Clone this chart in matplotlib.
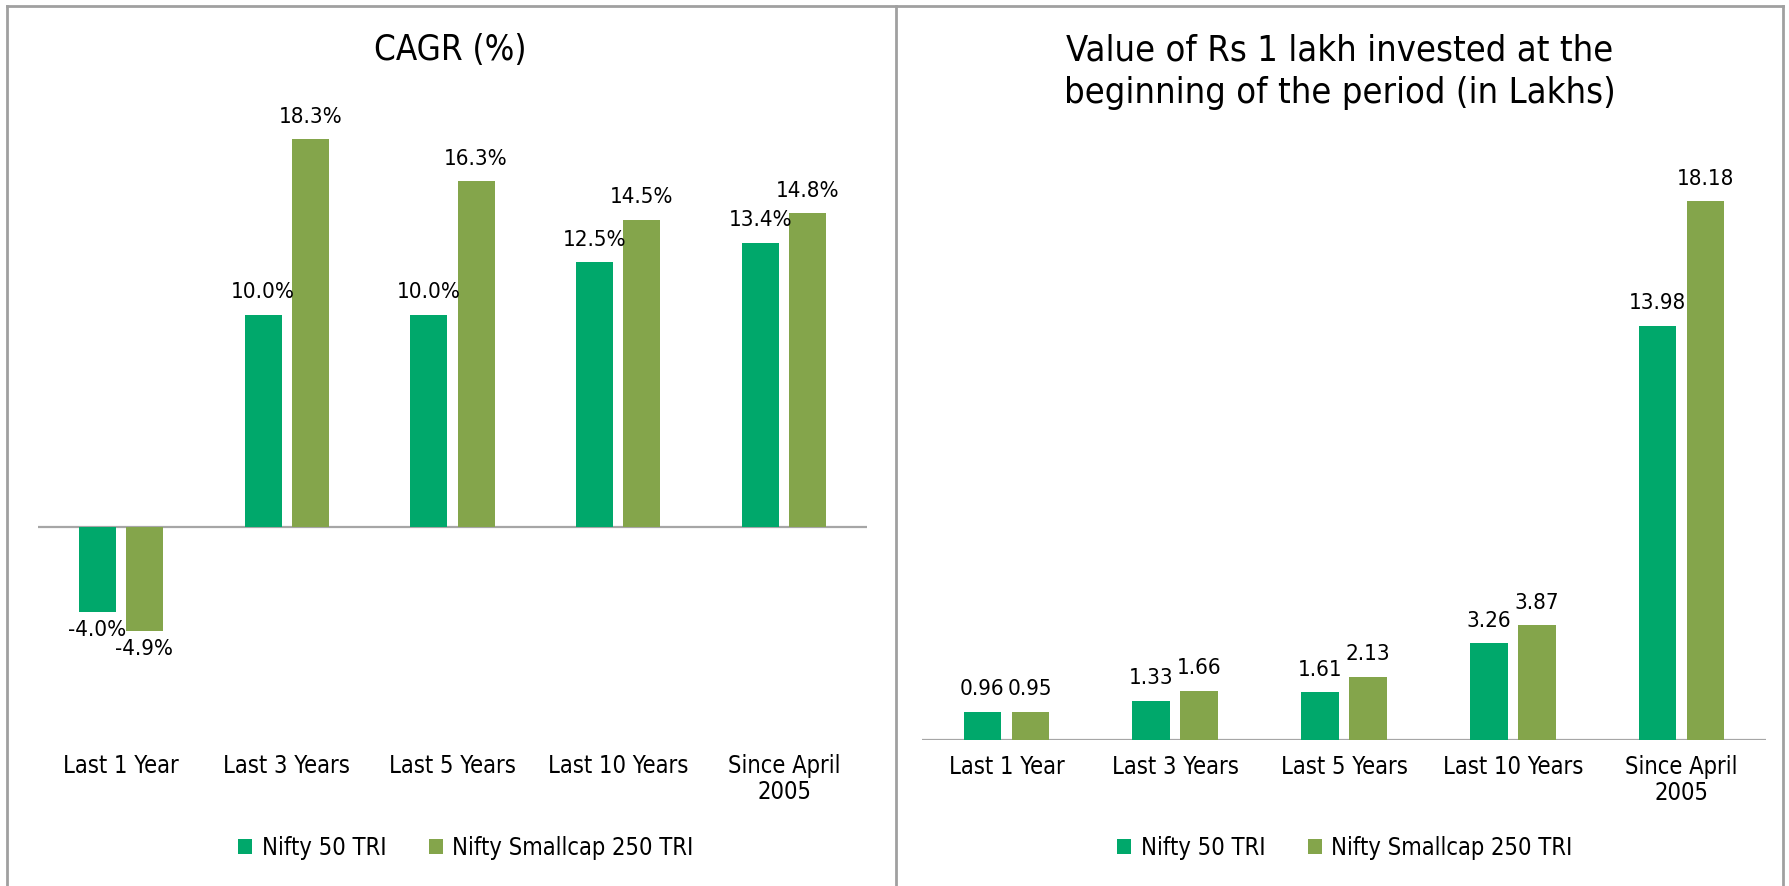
import matplotlib.pyplot as plt
import numpy as np
from matplotlib.lines import Line2D

plt.rcParams['font.family'] = ['DejaVu Sans']
plt.rcParams['font.stretch'] = 'condensed'

# data
categories = ['Last 1 Year', 'Last 3 Years', 'Last 5 Years', 'Last 10 Years', 'Since April\n2005']
series_names = ['Nifty 50 TRI', 'Nifty Smallcap 250 TRI']
cagr_nifty50 = [-4.0, 10.0, 10.0, 12.5, 13.4]
cagr_smallcap = [-4.9, 18.3, 16.3, 14.5, 14.8]
value_nifty50 = [0.96, 1.33, 1.61, 3.26, 13.98]
value_smallcap = [0.95, 1.66, 2.13, 3.87, 18.18]

green = '#00A86B'
olive = '#84A54B'
W, H = 1789, 886

fig = plt.figure(figsize=(W / 100, H / 100), dpi=100)

def axes_px(x0, x1, ytop, ybot):
    return fig.add_axes([x0 / W, (H - ybot) / H, (x1 - x0) / W, (ybot - ytop) / H])

def draw_bars(ax, a, b, fmt):
    x = np.arange(len(categories))
    w = 0.223
    off = 0.142
    bars1 = ax.bar(x - off, a, w, color=green, label=series_names[0])
    bars2 = ax.bar(x + off, b, w, color=olive, label=series_names[1])
    for bars in (bars1, bars2):
        for r in bars:
            v = r.get_height()
            cx = r.get_x() + r.get_width() / 2
            if v >= 0:
                ax.annotate(fmt(v), (cx, v), xytext=(0, 9), textcoords='offset points',
                            ha='center', va='bottom', fontsize=16)
            else:
                ax.annotate(fmt(v), (cx, v), xytext=(0, -6), textcoords='offset points',
                            ha='center', va='top', fontsize=16)
    ax.set_xlim(-0.5, len(categories) - 0.5)
    ax.set_xticks(x)
    ax.set_xticklabels(categories, fontsize=17, linespacing=1.1)
    ax.tick_params(axis='x', length=0, pad=11)
    ax.set_yticks([])
    for s in ax.spines.values():
        s.set_visible(False)
    ax.axhline(0, color='#A6A6A6', lw=1.6, zorder=0)

# left chart: CAGR
ax1 = axes_px(38, 867, 103, 739)
draw_bars(ax1, cagr_nifty50, cagr_smallcap, lambda v: f'{v:.1f}%')
ax1.set_ylim(-10, 20)
fig.text(450 / W, 1 - 50 / H, 'CAGR (%)', ha='center', va='center', fontsize=25)
fig.legend(handles=ax1.containers, labels=series_names, loc='center',
           bbox_to_anchor=(466 / W, 1 - 848 / H), ncol=2, frameon=False, fontsize=17,
           handlelength=0.6, handleheight=0.6, handletextpad=0.4, columnspacing=1.8)

# right chart: value of Rs 1 lakh
ax2 = axes_px(922, 1766, 103, 740)
draw_bars(ax2, value_nifty50, value_smallcap, lambda v: f'{v:.2f}')
ax2.set_ylim(0, 21.5)
fig.text(1340 / W, 1 - 72 / H, 'Value of Rs 1 lakh invested at the\nbeginning of the period (in Lakhs)',
         ha='center', va='center', fontsize=26, linespacing=1.3)
fig.legend(handles=ax2.containers, labels=series_names, loc='center',
           bbox_to_anchor=(1345 / W, 1 - 848 / H), ncol=2, frameon=False, fontsize=17,
           handlelength=0.6, handleheight=0.6, handletextpad=0.4, columnspacing=1.8)

# panel borders
border = '#A0A0A0'
for xs, ys in [([7, 7], [6, H]), ([7, 1783], [6, 6]), ([896, 896], [6, H]), ([1783, 1783], [6, H])]:
    fig.add_artist(Line2D([x / W for x in xs], [1 - y / H for y in ys], color=border, lw=2))

fig.savefig('out.png', dpi=100)
